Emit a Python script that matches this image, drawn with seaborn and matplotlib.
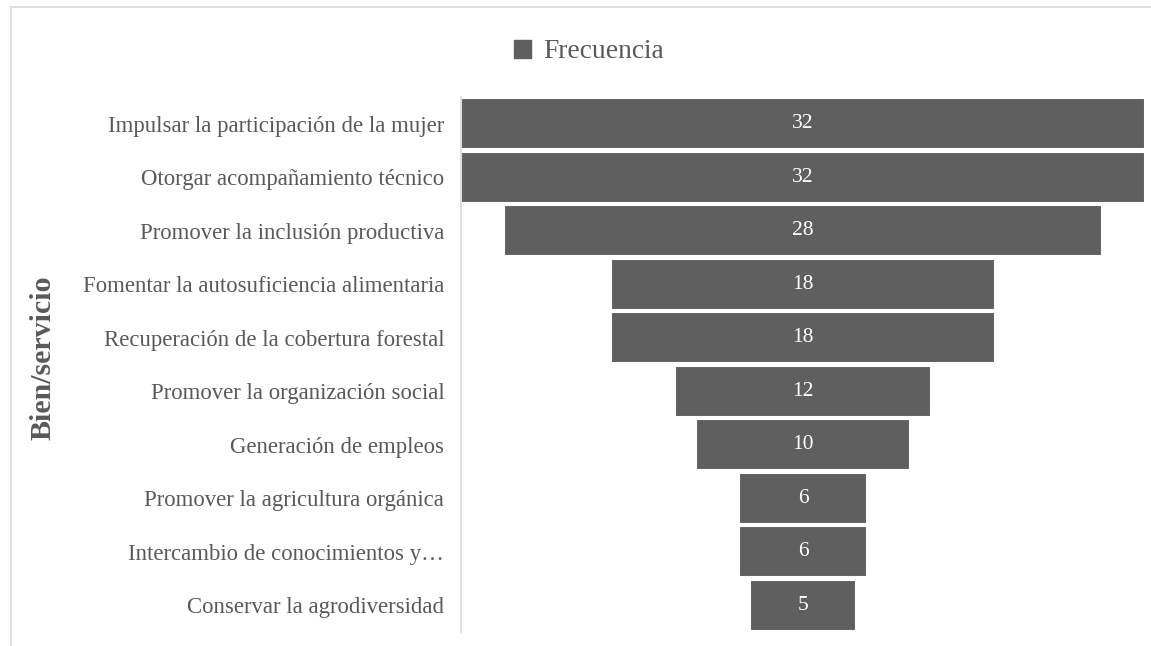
import matplotlib
matplotlib.use("Agg")
import matplotlib.pyplot as plt
import seaborn as sns
import pandas as pd
from matplotlib.patches import Rectangle, Patch

categories = [
    "Impulsar la participación de la mujer",
    "Otorgar acompañamiento técnico",
    "Promover la inclusión productiva",
    "Fomentar la autosuficiencia alimentaria",
    "Recuperación de la cobertura forestal",
    "Promover la organización social",
    "Generación de empleos",
    "Promover la agricultura orgánica",
    "Intercambio de conocimientos y…",
    "Conservar la agrodiversidad",
]
frecuencia = [32, 32, 28, 18, 18, 12, 10, 6, 6, 5]
series_name = "Frecuencia"
ylabel = "Bien/servicio"

sns.set_theme(style="white")
plt.rcParams["font.family"] = ["Liberation Serif", "DejaVu Serif"]

BAR = "#5f5f5f"
TXT = "#595959"
GRID = "#d9d9d9"

df = pd.DataFrame({"cat": categories, "val": frecuencia})
vmax = max(frecuencia)

fig = plt.figure(figsize=(11.51, 6.46), dpi=100)
ax = fig.add_axes([461 / 1151, 1 - 632 / 646, (1145 - 461) / 1151, (632 - 97) / 646])

sns.barplot(data=df, y="cat", x="val", color=BAR, saturation=1, width=0.96,
            edgecolor="white", linewidth=1.5, ax=ax, orient="h")

# centre each bar to form a funnel
for patch, v in zip(ax.patches, frecuencia):
    patch.set_x((vmax - v) / 2)
    ax.text((vmax - v) / 2 + v / 2, patch.get_y() + patch.get_height() / 2, str(v),
            ha="center", va="center", color="white", fontsize=15.5)

ax.set_xlim(0, vmax)
ax.set_ylim(len(categories) - 0.5, -0.5)
ax.set_xticks([])
ax.set_xlabel("")
ax.set_ylabel(ylabel, fontsize=21.5, fontweight="bold", color=TXT)
ax.yaxis.set_label_coords(-(461 - 56) / (1145 - 461), 0.512)
ax.tick_params(axis="y", length=0, pad=12, labelsize=16.4, labelcolor=TXT)

for s in ["top", "right", "bottom"]:
    ax.spines[s].set_visible(False)
ax.spines["left"].set_color(GRID)
ax.spines["left"].set_linewidth(1.2)

handle = Patch(facecolor=BAR, edgecolor=BAR)
fig.legend([handle], [series_name], loc="center", bbox_to_anchor=(589 / 1151, 1 - 52 / 646),
           frameon=False, fontsize=19.8, handlelength=0.62, handleheight=0.62,
           handletextpad=0.45, labelcolor=TXT)

# chart area border
fig.patches.append(Rectangle((11 / 1151, -0.1), 1.2, 1 - 7 / 646 + 0.1, transform=fig.transFigure,
                             fill=False, edgecolor=GRID, linewidth=1.2, zorder=-1))

fig.savefig("out.png", dpi=100)
